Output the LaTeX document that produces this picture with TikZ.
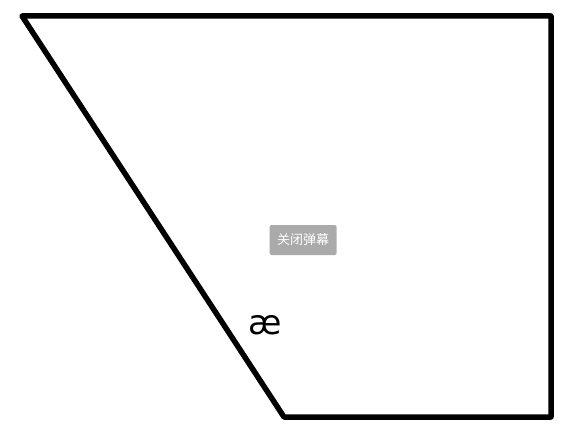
\documentclass[tikz,border=0pt]{standalone}
\usepackage{fontspec}
\newfontfamily\cjk{Noto Sans CJK SC}
\newfontfamily\latinsans{DejaVu Sans}
\definecolor{btngrey}{HTML}{AAAAAA}
\begin{document}
\begin{tikzpicture}[x=1pt,y=-1pt,
  outline/.style={line width=5.5pt,line join=round,line cap=round},
  btn/.style={fill=btngrey,rounded corners=1.5pt,minimum width=67pt,minimum height=30pt,inner sep=0pt,text=white,font=\cjk\fontsize{13}{15}\selectfont},
  glyph/.style={inner sep=0pt,font=\latinsans\fontsize{34}{40}\selectfont}]
\useasboundingbox (0,0) rectangle (566,436);
\coordinate (tl) at (22,16);
\coordinate (tr) at (551,16);
\coordinate (br) at (551,417);
\coordinate (bl) at (284,417);
\draw[outline] (tl) -- (tr) -- (br) -- (bl) -- cycle;
\node[btn] (close) at (303,240) {关闭弹幕};
\node[glyph,anchor=base] (ae) at (265,334) {æ};
\end{tikzpicture}
\end{document}
